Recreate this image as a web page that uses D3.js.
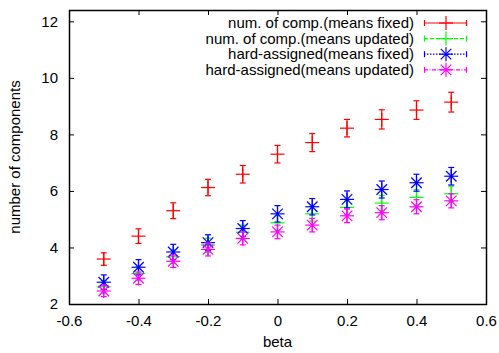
<!DOCTYPE html>
<html>
<head>
<meta charset="utf-8">
<script src="https://cdn.jsdelivr.net/npm/d3@7"></script>
<style>
body { margin: 0; background: #fff; }
svg { display: block; }
text { font-family: "Liberation Sans", Arial, sans-serif; font-size: 15px; fill: #000; }
</style>
</head>
<body>
<script>
var w = 499;
var h = 353;

var betas = [-0.5, -0.4, -0.3, -0.2, -0.1, 0, 0.1, 0.2, 0.3, 0.4, 0.5];
var compFixed = [3.59, 4.40, 5.30, 6.12, 6.59, 7.30, 7.71, 8.22, 8.53, 8.86, 9.14];
var compFixedErr = [0.22, 0.26, 0.28, 0.29, 0.31, 0.31, 0.32, 0.31, 0.34, 0.33, 0.35];
var compUpdated = [2.61, 3.08, 3.67, 4.08, 4.54, 4.87, 5.19, 5.42, 5.57, 5.77, 5.90];
var compUpdatedErr = [0.22, 0.24, 0.24, 0.25, 0.25, 0.26, 0.26, 0.26, 0.27, 0.27, 0.27];
var hardFixed = [2.77, 3.30, 3.84, 4.17, 4.67, 5.19, 5.44, 5.70, 6.05, 6.29, 6.52];
var hardFixedErr = [0.26, 0.27, 0.27, 0.28, 0.28, 0.29, 0.29, 0.3, 0.3, 0.3, 0.31];
var hardUpdated = [2.46, 2.91, 3.51, 3.93, 4.32, 4.55, 4.79, 5.12, 5.23, 5.44, 5.65];
var hardUpdatedErr = [0.2, 0.22, 0.22, 0.23, 0.23, 0.24, 0.24, 0.24, 0.25, 0.25, 0.25];

var xTicks = [-0.6, -0.4, -0.2, 0, 0.2, 0.4, 0.6];
var yTicks = [2, 4, 6, 8, 10, 12];

var series = [
  {name: "num. of comp.(means fixed)", vals: compFixed, err: compFixedErr, color: "#ff0000", mark: "plus", dash: null},
  {name: "num. of comp.(means updated)", vals: compUpdated, err: compUpdatedErr, color: "#00ff00", mark: "plus", dash: "4,2"},
  {name: "hard-assigned(means fixed)", vals: hardFixed, err: hardFixedErr, color: "#0000ff", mark: "star", dash: "1.5,1.5"},
  {name: "hard-assigned(means updated)", vals: hardUpdated, err: hardUpdatedErr, color: "#ff00ff", mark: "star", dash: "4,1.5,1,1.5"}
];

var pLeft = 69, pRight = 486, pTop = 10, pBottom = 304;

var x = d3.scaleLinear().domain([-0.6, 0.6]).range([pLeft, pRight]);
var y = d3.scaleLinear().domain([2, 12.4]).range([pBottom, pTop]);

var svg = d3.select("body").append("svg")
  .attr("width", w)
  .attr("height", h);

function plain(d) { return String(d); }

// axes, gnuplot style ticks pointing inward
svg.append("g")
  .attr("transform", "translate(0," + pBottom + ")")
  .call(d3.axisBottom(x).tickValues(xTicks).tickSize(-5).tickPadding(11).tickFormat(plain))
  .call(function(g) { g.select(".domain").remove(); });

svg.append("g")
  .attr("transform", "translate(0," + pTop + ")")
  .call(d3.axisTop(x).tickValues(xTicks).tickSize(-5).tickFormat(""))
  .call(function(g) { g.select(".domain").remove(); });

svg.append("g")
  .attr("transform", "translate(" + pLeft + ",0)")
  .call(d3.axisLeft(y).tickValues(yTicks).tickSize(-5).tickPadding(11).tickFormat(plain))
  .call(function(g) { g.select(".domain").remove(); });

svg.append("g")
  .attr("transform", "translate(" + pRight + ",0)")
  .call(d3.axisRight(y).tickValues(yTicks).tickSize(-5).tickFormat(""))
  .call(function(g) { g.select(".domain").remove(); });

svg.selectAll(".tick text")
  .attr("font-family", "Liberation Sans, Arial, sans-serif")
  .attr("font-size", 15);

svg.selectAll(".tick line").attr("stroke", "#000");

svg.append("rect")
  .attr("x", pLeft + 0.5)
  .attr("y", pTop + 0.5)
  .attr("width", pRight - pLeft)
  .attr("height", pBottom - pTop)
  .attr("fill", "none")
  .attr("stroke", "#000")
  .attr("stroke-width", 1.5);

svg.append("text")
  .attr("x", x(0))
  .attr("y", 347)
  .attr("text-anchor", "middle")
  .text("beta");

svg.append("text")
  .attr("transform", "translate(20," + y(7.2) + ") rotate(-90)")
  .attr("text-anchor", "middle")
  .text("number of components");

function drawMark(g, cx, cy, type, color, s) {
  g.append("line").attr("x1", cx - s).attr("x2", cx + s).attr("y1", cy).attr("y2", cy);
  g.append("line").attr("x1", cx).attr("x2", cx).attr("y1", cy - s).attr("y2", cy + s);
  if (type == "star") {
    var d = s * 0.75;
    g.append("line").attr("x1", cx - d).attr("x2", cx + d).attr("y1", cy - d).attr("y2", cy + d);
    g.append("line").attr("x1", cx - d).attr("x2", cx + d).attr("y1", cy + d).attr("y2", cy - d);
    g.append("circle").attr("cx", cx).attr("cy", cy).attr("r", 1.5).attr("fill", color).attr("stroke", "none");
  }
}

var plot = svg.append("g");

series.forEach(function(s) {
  var g = plot.append("g").attr("stroke", s.color).attr("stroke-width", 1.2).attr("fill", "none");
  s.vals.forEach(function(v, i) {
    var cx = x(betas[i]);
    var e = s.err[i];
    g.append("line")
      .attr("x1", cx).attr("x2", cx)
      .attr("y1", y(v + e)).attr("y2", y(v - e));
    [v + e, v - e].forEach(function(c) {
      g.append("line")
        .attr("x1", cx - 3).attr("x2", cx + 3)
        .attr("y1", y(c)).attr("y2", y(c));
    });
    drawMark(g, cx, y(v), s.mark, s.color, 7);
  });
});

// legend
var legend = svg.append("g");
series.forEach(function(s, i) {
  var ly = 23 + i * 15.6;
  legend.append("text")
    .attr("x", 414)
    .attr("y", ly + 5)
    .attr("text-anchor", "end")
    .text(s.name);
  var g = legend.append("g").attr("stroke", s.color).attr("stroke-width", 1.2).attr("fill", "none");
  g.append("line")
    .attr("x1", 424).attr("x2", 467)
    .attr("y1", ly).attr("y2", ly)
    .attr("stroke-dasharray", s.dash);
  g.append("line").attr("x1", 424.5).attr("x2", 424.5).attr("y1", ly - 3).attr("y2", ly + 3);
  g.append("line").attr("x1", 466.5).attr("x2", 466.5).attr("y1", ly - 3).attr("y2", ly + 3);
  drawMark(g, 446, ly, s.mark, s.color, 7);
});
</script>
</body>
</html>
